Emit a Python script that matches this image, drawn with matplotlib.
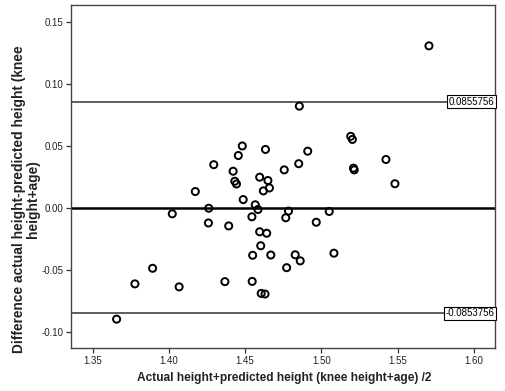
import matplotlib
matplotlib.use('Agg')
import matplotlib.pyplot as plt
import matplotlib.transforms as mtransforms

avg_height = [1.3657, 1.3777, 1.3893, 1.4022, 1.4067, 1.4173, 1.4261, 1.4259,
              1.4294, 1.4367, 1.4392, 1.4421, 1.4432, 1.4443, 1.4455, 1.4481,
              1.4487, 1.4544, 1.4549, 1.4546, 1.4566, 1.4584, 1.4595, 1.4595,
              1.4602, 1.4605, 1.4630, 1.4633, 1.4641, 1.4619, 1.4649, 1.4659,
              1.4668, 1.4756, 1.4766, 1.4772, 1.4784, 1.4828, 1.4851, 1.4855,
              1.4861, 1.4910, 1.4966, 1.5051, 1.5082, 1.5192, 1.5203, 1.5210,
              1.5215, 1.5423, 1.5482, 1.5705]
diff_height = [-0.0900, -0.0615, -0.0489, -0.0049, -0.0639, 0.0131, -0.0004, -0.0123,
               0.0348, -0.0597, -0.0147, 0.0295, 0.0214, 0.0192, 0.0422, 0.0499,
               0.0066, -0.0073, -0.0384, -0.0595, 0.0024, -0.0014, 0.0247, -0.0194,
               -0.0307, -0.0692, -0.0697, 0.0471, -0.0206, 0.0136, 0.0220, 0.0160,
               -0.0382, 0.0306, -0.0081, -0.0484, -0.0027, -0.0380, 0.0356, 0.0821,
               -0.0429, 0.0457, -0.0117, -0.0030, -0.0367, 0.0577, 0.0552, 0.0320,
               0.0306, 0.0390, 0.0194, 0.1308]

mean_diff = 0.0
upper_loa = 0.0855756
lower_loa = -0.0853756
upper_label = '0.0855756'
lower_label = '-0.0853756'

x_ticks = [1.35, 1.40, 1.45, 1.50, 1.55, 1.60]
y_ticks = [-0.10, -0.05, 0.00, 0.05, 0.10, 0.15]

plt.rcParams['font.family'] = ['Liberation Sans', 'DejaVu Sans']

fig = plt.figure(figsize=(5.05, 3.91), dpi=100)
ax = fig.add_axes([0.1406, 0.11, 0.8396, 0.8772])

ax.axhline(upper_loa, color='#333333', lw=1.1, zorder=1)
ax.axhline(lower_loa, color='#333333', lw=1.1, zorder=1)
ax.axhline(mean_diff, color='black', lw=1.8, zorder=1)

ax.scatter(avg_height, diff_height, s=26, facecolors='none', edgecolors='black',
           linewidths=1.4, zorder=3)

ax.set_xlim(1.3358, 1.6138)
ax.set_ylim(-0.1133, 0.1638)
ax.set_xticks(x_ticks)
ax.set_yticks(y_ticks)
ax.set_xticklabels(['%.2f' % v for v in x_ticks])
ax.set_yticklabels(['%.2f' % v for v in y_ticks])
ax.tick_params(direction='out', length=3.5, width=0.9, color='#333333',
               labelsize=7, labelcolor='#222222', pad=2)

for sp in ax.spines.values():
    sp.set_color('#444444')
    sp.set_linewidth(1.0)

# value boxes at the right end of the limit lines
trans = mtransforms.blended_transform_factory(ax.transAxes, ax.transData)
box = dict(boxstyle='square,pad=0.15', facecolor='white', edgecolor='black', lw=0.8)
ax.text(0.998, upper_loa, upper_label, transform=trans, ha='right', va='center',
        fontsize=7, bbox=box, zorder=4)
ax.text(0.998, lower_loa, lower_label, transform=trans, ha='right', va='center',
        fontsize=7, bbox=box, zorder=4)

ax.set_xlabel('Actual height+predicted height (knee height+age) /2',
              fontsize=8.6, fontweight='bold', color='#222222')
ax.set_ylabel('Difference actual height-predicted height (knee\nheight+age)',
              fontsize=9.9, fontweight='bold', color='#222222', linespacing=0.95)
ax.xaxis.set_label_coords(0.502, -0.07)
ax.yaxis.set_label_coords(-0.074, 0.433)

fig.savefig('out.png', dpi=100)
